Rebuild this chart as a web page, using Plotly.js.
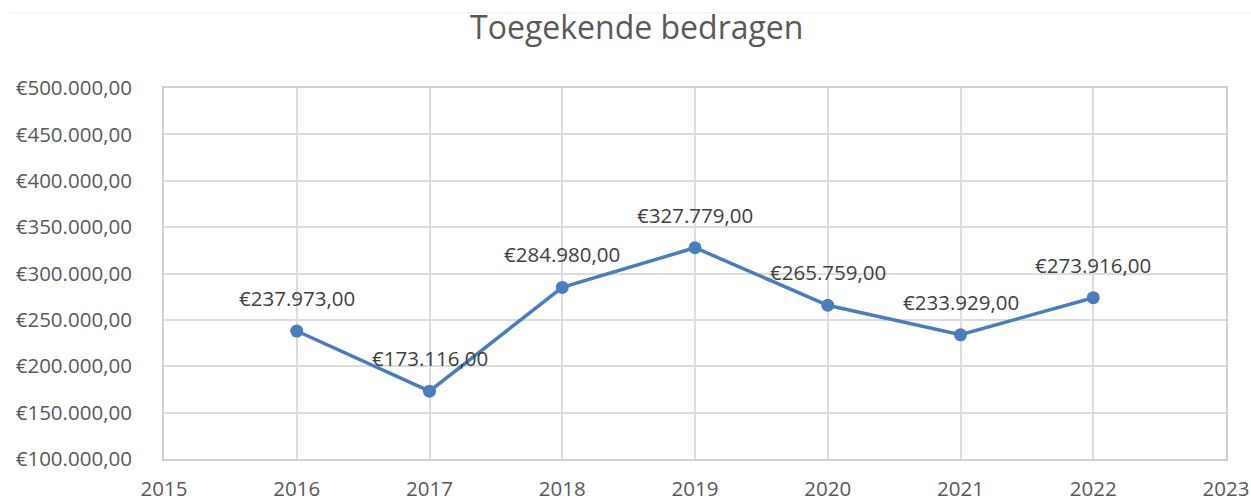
<!DOCTYPE html>
<html>
<head>
<meta charset="utf-8">
<script src="https://cdn.plot.ly/plotly-3.0.1.min.js"></script>
<style>html,body{margin:0;padding:0;background:#fff;}#chart{width:1251px;height:499px;}</style>
</head>
<body>
<div id="chart"></div>
<script>
const years = [2016, 2017, 2018, 2019, 2020, 2021, 2022];
const amounts = [237973, 173116, 284980, 327779, 265759, 233929, 273916];
const amountLabels = ['€237.973,00', '€173.116,00', '€284.980,00', '€327.779,00', '€265.759,00', '€233.929,00', '€273.916,00'];
const yTickVals = [100000, 150000, 200000, 250000, 300000, 350000, 400000, 450000, 500000];
const yTickLabels = ['€100.000,00', '€150.000,00', '€200.000,00', '€250.000,00', '€300.000,00', '€350.000,00', '€400.000,00', '€450.000,00', '€500.000,00'];
const xTickVals = [2015, 2016, 2017, 2018, 2019, 2020, 2021, 2022, 2023];
const titleText = 'Toegekende bedragen';

const lineColor = '#4A7EBB';
const font = 'Open Sans, Noto Sans, sans-serif';

const annotations = years.map((x, i) => ({
  x: x, y: amounts[i], xref: 'x', yref: 'y',
  text: amountLabels[i], showarrow: false,
  yshift: 33, yanchor: 'middle', xanchor: 'center',
  font: {family: font, size: 20.5, color: '#404040'}
}));

Plotly.newPlot('chart', [{
  x: years, y: amounts, type: 'scatter', mode: 'lines+markers',
  line: {color: lineColor, width: 3.5},
  marker: {color: lineColor, size: 13},
  hoverinfo: 'skip'
}], {
  width: 1251, height: 499,
  margin: {l: 164, r: 25, t: 88, b: 40},
  paper_bgcolor: '#fff', plot_bgcolor: '#fff',
  showlegend: false,
  title: {text: titleText, x: 0.509, xanchor: 'center', y: 0.944, yanchor: 'middle',
          font: {family: font, size: 32, color: '#595959'}},
  xaxis: {range: [2015, 2023], tickvals: xTickVals, ticks: '', ticklabelstandoff: 10,
          showgrid: true, gridcolor: '#DCDCDC', gridwidth: 2,
          showline: true, linecolor: '#D0D0D0', linewidth: 2, mirror: true, zeroline: false,
          tickfont: {family: font, size: 20.5, color: '#595959'}, fixedrange: true},
  yaxis: {range: [100000, 500000], tickvals: yTickVals, ticktext: yTickLabels, ticks: '',
          ticklabelstandoff: 26,
          showgrid: true, gridcolor: '#DCDCDC', gridwidth: 2,
          showline: true, linecolor: '#D0D0D0', linewidth: 2, mirror: true, zeroline: false,
          tickfont: {family: font, size: 20.5, color: '#595959'}, fixedrange: true},
  annotations: annotations,
  shapes: [{type: 'line', xref: 'paper', yref: 'paper', x0: -0.145, x1: 1.03, y0: 1.202, y1: 1.202,
            line: {color: '#F2F2F2', width: 1.5}}]
}, {displayModeBar: false, staticPlot: true});
</script>
</body>
</html>
